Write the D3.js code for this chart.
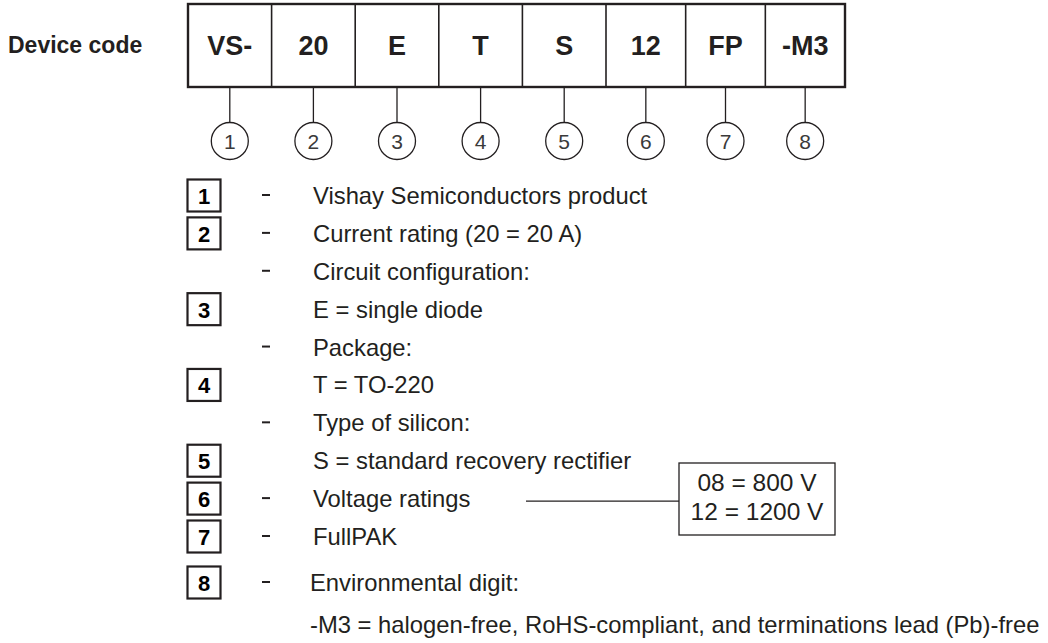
<!DOCTYPE html>
<html>
<head>
<meta charset="utf-8">
<script src="https://cdn.jsdelivr.net/npm/d3@7"></script>
<style>
  body { margin: 0; background: #fff; }
  svg { display: block; font-family: "Liberation Sans", Arial, sans-serif; }
</style>
</head>
<body>
<svg id="chart" width="1048" height="643"></svg>
<script>
const codes = ['VS-', '20', 'E', 'T', 'S', '12', 'FP', '-M3'];
const markers = ['1', '2', '3', '4', '5', '6', '7', '8'];

const rowTexts = [
  'Vishay Semiconductors product',
  'Current rating (20 = 20 A)',
  'Circuit configuration:',
  'E = single diode',
  'Package:',
  'T = TO-220',
  'Type of silicon:',
  'S = standard recovery rectifier',
  'Voltage ratings',
  'FullPAK',
  'Environmental digit:',
  '-M3 = halogen-free, RoHS-compliant, and terminations lead (Pb)-free'
];
const rowBoxes = ['1', '2', null, '3', null, '4', null, '5', '6', '7', '8', null];
const rowDashes = [true, true, true, false, true, false, true, false, true, true, true, false];

const voltageCodes = ['08 = 800 V', '12 = 1200 V'];
const voltageRow = 8;

const ink = '#231f20';
const svg = d3.select('#chart');

// code strip: first five cells a little wider than the last three
const edge = d3.scaleLinear().domain([0, 5, 8]).range([188, 606, 845]);
const cx = i => (edge(i) + edge(i + 1)) / 2;
const boxTop = 4, boxBottom = 87;

svg.append('text')
  .attr('x', 8).attr('y', 53)
  .attr('font-size', 23).attr('font-weight', 'bold').attr('fill', ink)
  .text('Device code');

const cells = svg.append('g');
cells.selectAll('line.div')
  .data(d3.range(1, codes.length))
  .join('line')
  .attr('class', 'div')
  .attr('x1', i => edge(i)).attr('x2', i => edge(i))
  .attr('y1', boxTop).attr('y2', boxBottom)
  .attr('stroke', ink).attr('stroke-width', 1.6);

cells.append('rect')
  .attr('x', edge(0)).attr('y', boxTop)
  .attr('width', edge(codes.length) - edge(0)).attr('height', boxBottom - boxTop)
  .attr('fill', 'none').attr('stroke', ink).attr('stroke-width', 2.4);

cells.selectAll('text')
  .data(codes)
  .join('text')
  .attr('x', (d, i) => cx(i))
  .attr('y', 55)
  .attr('text-anchor', 'middle')
  .attr('font-size', 27).attr('font-weight', 'bold').attr('fill', ink)
  .text(d => d);

// leaders + numbered circles
const circleY = 141, r = 18.5;
const leaders = svg.append('g');
leaders.selectAll('line')
  .data(codes)
  .join('line')
  .attr('x1', (d, i) => cx(i)).attr('x2', (d, i) => cx(i))
  .attr('y1', boxBottom).attr('y2', circleY - r)
  .attr('stroke', ink).attr('stroke-width', 1.3);

leaders.selectAll('circle')
  .data(codes)
  .join('circle')
  .attr('cx', (d, i) => cx(i)).attr('cy', circleY).attr('r', r)
  .attr('fill', '#fff').attr('stroke', ink).attr('stroke-width', 1.3);

leaders.selectAll('text')
  .data(markers)
  .join('text')
  .attr('x', (d, i) => cx(i))
  .attr('y', circleY + 7.5)
  .attr('text-anchor', 'middle')
  .attr('font-size', 21).attr('fill', '#3a3a3a')
  .text(d => d);

// legend rows
const yMain = d3.scaleLinear().domain([0, 9]).range([204, 545]);
const yEnv = d3.scaleLinear().domain([10, 11]).range([591, 633]);
const rowY = i => (i < 10 ? yMain(i) : yEnv(i));

const legend = svg.append('g');
const rows = rowTexts.map((t, i) => ({ i, text: t, box: rowBoxes[i], dash: rowDashes[i] }));

legend.selectAll('text.row')
  .data(rows)
  .join('text')
  .attr('class', 'row')
  .attr('x', d => (d.i < 10 ? 313 : 310))
  .attr('y', d => rowY(d.i))
  .attr('font-size', 23.8).attr('fill', ink)
  .text(d => d.text);

legend.selectAll('line.dash')
  .data(rows.filter(d => d.dash))
  .join('line')
  .attr('class', 'dash')
  .attr('x1', 262).attr('x2', 270)
  .attr('y1', d => rowY(d.i) - 9).attr('y2', d => rowY(d.i) - 9)
  .attr('stroke', ink).attr('stroke-width', 2);

const boxed = legend.selectAll('g.box')
  .data(rows.filter(d => d.box))
  .join('g')
  .attr('class', 'box')
  .attr('transform', d => `translate(204,${rowY(d.i) - 8})`);

boxed.append('rect')
  .attr('x', -16.5).attr('y', -16.5).attr('width', 33).attr('height', 32)
  .attr('fill', '#fff').attr('stroke', ink).attr('stroke-width', 2.2);

boxed.append('text')
  .attr('y', 8)
  .attr('text-anchor', 'middle')
  .attr('font-size', 22).attr('font-weight', 'bold').attr('fill', '#000')
  .text(d => d.box);

// voltage callout
const vy = rowY(voltageRow) - 6;
const vBox = { x: 679, y: 463, w: 156, h: 72 };
svg.append('line')
  .attr('x1', 526).attr('x2', vBox.x)
  .attr('y1', vy).attr('y2', vy)
  .attr('stroke', ink).attr('stroke-width', 1.3);

svg.append('rect')
  .attr('x', vBox.x).attr('y', vBox.y).attr('width', vBox.w).attr('height', vBox.h)
  .attr('fill', '#fff').attr('stroke', ink).attr('stroke-width', 1.3);

svg.append('g').selectAll('text')
  .data(voltageCodes)
  .join('text')
  .attr('x', vBox.x + vBox.w / 2)
  .attr('y', (d, i) => 491 + i * 29)
  .attr('text-anchor', 'middle')
  .attr('font-size', 24.5).attr('fill', ink)
  .text(d => d);
</script>
</body>
</html>
